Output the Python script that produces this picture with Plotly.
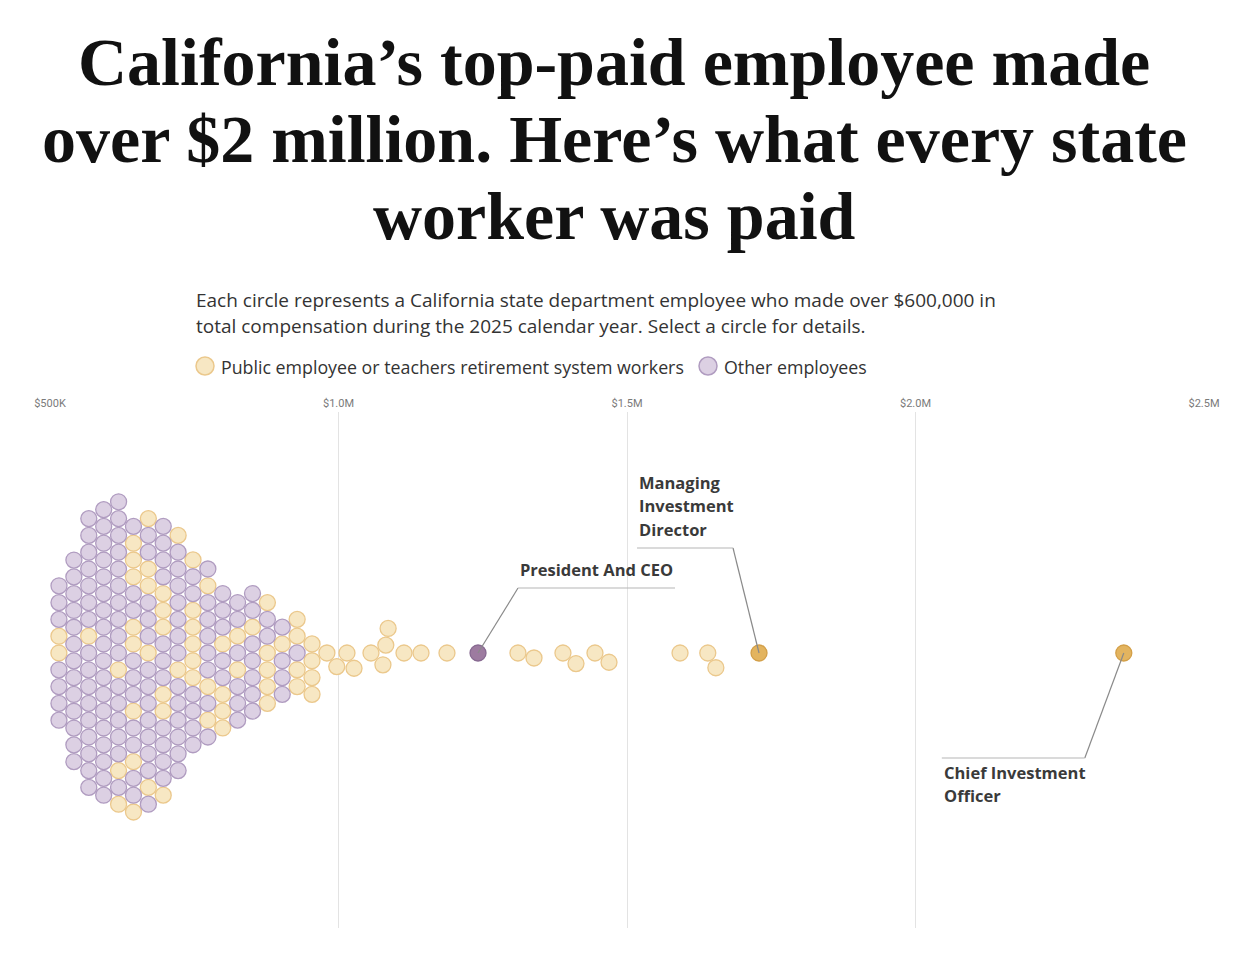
import math
import plotly.graph_objects as go

# ---------------- DATA (total compensation, thousands of $) ----------------
retirement_k = [
    515.42, 515.46,
    566.98,
    618.54, 618.78, 618.86,
    644.37, 644.41, 644.43, 644.51, 644.55, 644.57, 644.61, 644.67,
    670.13, 670.29, 670.31, 670.43, 670.45,
    696.00, 696.02, 696.04, 696.06, 696.10, 696.24,
    721.78, 722.04,
    747.59, 747.61, 747.63, 747.67, 747.71, 747.81,
    773.46, 773.54, 773.56,
    799.26, 799.28, 799.32, 799.36,
    825.05, 825.07,
    850.91,
    876.64, 876.66, 876.70, 876.74, 876.76,
    902.50,
    928.28, 928.30, 928.32, 928.34,
    954.07, 954.09, 954.11, 954.13,
    979.90,
    997.0, 1014.7, 1026.9, 1056.3, 1077.0, 1082.0, 1086.0, 1113.5, 1143.0,
    1188.0, 1311.0, 1338.8, 1389.0, 1411.6, 1444.5, 1468.8, 1591.9, 1640.0,
    1654.0, 1728.8, 2361.0,
]
other_k = [
    515.44, 515.48, 515.50, 515.52, 515.54, 515.56, 515.58,
    541.18, 541.20, 541.22, 541.24, 541.26, 541.28, 541.30, 541.32, 541.34, 541.36, 541.38, 541.40, 541.42,
    566.94, 566.96, 567.00, 567.02, 567.04, 567.06, 567.08, 567.10, 567.12, 567.14, 567.16, 567.18,
    567.20, 567.22, 567.24, 567.26,
    592.73, 592.75, 592.77, 592.79, 592.81, 592.83, 592.85, 592.87, 592.89, 592.91, 592.93, 592.95,
    592.97, 592.99, 593.01, 593.03, 593.05, 593.07,
    618.52, 618.56, 618.58, 618.60, 618.62, 618.64, 618.66, 618.68, 618.70, 618.72, 618.74, 618.76,
    618.80, 618.82, 618.84, 618.88,
    644.33, 644.35, 644.39, 644.45, 644.47, 644.49, 644.53, 644.59, 644.63, 644.65,
    670.15, 670.17, 670.19, 670.21, 670.23, 670.25, 670.27, 670.33, 670.35, 670.37, 670.39, 670.41, 670.47,
    695.94, 695.96, 695.98, 696.08, 696.12, 696.14, 696.16, 696.18, 696.20, 696.22, 696.26,
    721.76, 721.80, 721.82, 721.84, 721.86, 721.88, 721.90, 721.92, 721.94, 721.96, 721.98, 722.00, 722.02,
    747.65, 747.69, 747.73, 747.75, 747.77, 747.79,
    773.40, 773.42, 773.44, 773.48, 773.50, 773.52, 773.58, 773.60,
    799.22, 799.24, 799.30, 799.34, 799.38,
    825.03, 825.09, 825.11, 825.13, 825.15, 825.17,
    850.83, 850.85, 850.87, 850.89, 850.93, 850.95, 850.97,
    876.68, 876.72,
    902.46, 902.48, 902.52, 902.54,
    928.26,
    1241.8,
]
highlight_titles = ["President And CEO", "Managing Investment Director", "Chief Investment Officer"]
highlight_values = [1241.8, 1728.8, 2361.0]

tick_vals = [500, 1000, 1500, 2000, 2500]
tick_text = ["$500K", "$1.0M", "$1.5M", "$2.0M", "$2.5M"]

title_lines = ["California\u2019s top-paid employee made",
               "over $2 million. Here\u2019s what every state",
               "worker was paid"]
subtitle_lines = ["Each circle represents a California state department employee who made over $600,000 in",
                  "total compensation during the 2025 calendar year. Select a circle for details."]
legend_labels = ["Public employee or teachers retirement system workers", "Other employees"]

# ---------------- LAYOUT CONSTANTS ----------------
W, H = 1240, 966
ML, MR, MT, MB = 50, 36, 412, 38
PW, PH = W - ML - MR, H - MT - MB
X0, X1 = 500, 2500
PX_PER_K = PW / (X1 - X0)
CENTER_PY = 653
Y_TOP = CENTER_PY - MT
Y_BOT = -(H - MB - CENTER_PY)
D = 16.8  # collision diameter in px

GOLD_FILL, GOLD_LINE = "#f7e7c3", "#ebc88c"
PURP_FILL, PURP_LINE = "#dcd0e3", "#b09cc0"
GOLD_HI_FILL, GOLD_HI_LINE = "#e3b45f", "#d39f48"
PURP_HI_FILL, PURP_HI_LINE = "#9d7ba0", "#876991"

# ---------------- BEESWARM (dodge) LAYOUT ----------------
items = [(v, "ret") for v in retirement_k] + [(v, "oth") for v in other_k]
items.sort(key=lambda t: t[0])
placed = []
for v, g in items:
    x = v * PX_PER_K
    near = [(px, py) for px, py, *_ in placed if abs(x - px) < D]
    cands = [0.0]
    for px, py in near:
        dy = math.sqrt(max(D * D - (x - px) ** 2, 0))
        cands += [py + dy, py - dy]
    cands = sorted(set(round(c, 6) for c in cands), key=lambda c: (abs(c), c))
    y = 0.0
    for c in cands:
        if all((x - px) ** 2 + (c - py) ** 2 >= D * D - 1e-3 for px, py in near):
            y = c
            break
    placed.append((x, y, v, g))

def pos_of(val):
    for x, y, v, g in placed:
        if abs(v - val) < 1e-9:
            return v, y
    return val, 0.0

fig = go.Figure()
for grp, fill, line in [("ret", GOLD_FILL, GOLD_LINE), ("oth", PURP_FILL, PURP_LINE)]:
    pts = [(v, y) for x, y, v, g in placed if g == grp and v not in highlight_values]
    fig.add_trace(go.Scatter(
        x=[p[0] for p in pts], y=[p[1] for p in pts], mode="markers",
        marker=dict(size=16, color=fill, line=dict(color=line, width=1.3)),
        hoverinfo="x", showlegend=False))

hi_x, hi_y, hi_fill, hi_line = [], [], [], []
for val in highlight_values:
    v, y = pos_of(val)
    hi_x.append(v); hi_y.append(y)
    is_ret = val in retirement_k
    hi_fill.append(GOLD_HI_FILL if is_ret else PURP_HI_FILL)
    hi_line.append(GOLD_HI_LINE if is_ret else PURP_HI_LINE)
fig.add_trace(go.Scatter(
    x=hi_x, y=hi_y, mode="markers", text=highlight_titles,
    marker=dict(size=16, color=hi_fill, line=dict(color=hi_line, width=1.3)),
    hoverinfo="text+x", showlegend=False))

# ---------------- helpers ----------------
def pxx(px):
    return (px - ML) / PW
def pyy(py):
    return (H - MB - py) / PH

LBL_FONT = dict(family="Open Sans", size=16.5, color="#3a3a3a")
ann = []
shapes = []

# leader lines: (dx_px to elbow, dy_px to elbow, horizontal line start/end offsets from elbow)
leaders = [
    (40, -65, 0, 157),
    (-26, -105, -96, 0),
    (-39, 105, -143, 0),
]
label_lines = [["President And CEO"], ["Managing", "Investment", "Director"], ["Chief Investment", "Officer"]]
for (dx, dy, h0, h1), lines, xv, yv, in zip(leaders, label_lines, hi_x, hi_y):
    ex = xv + dx / PX_PER_K
    ey = yv - dy
    shapes.append(dict(type="line", xref="x", yref="y", x0=xv, y0=yv, x1=ex, y1=ey,
                       line=dict(color="#8a8a8a", width=1.2), layer="above"))
    shapes.append(dict(type="line", xref="x", yref="y", x0=ex + h0 / PX_PER_K, y0=ey,
                       x1=ex + h1 / PX_PER_K, y1=ey, line=dict(color="#b5b5b5", width=1.2), layer="above"))
    left_x = ex + min(h0, h1) / PX_PER_K
    n = len(lines)
    for i, t in enumerate(lines):
        if dy < 0:
            yy = ey + 19 + (n - 1 - i) * 23.5
        else:
            yy = ey - 14 - i * 23.5
        ann.append(dict(x=left_x, y=yy, xref="x", yref="y", text="<b>%s</b>" % t, showarrow=False,
                        xanchor="left", yanchor="middle", font=LBL_FONT))

# title
for i, t in enumerate(title_lines):
    ann.append(dict(x=pxx(614), y=pyy(62 + i * 77), xref="paper", yref="paper", text="<b>%s</b>" % t,
                    showarrow=False, xanchor="center", yanchor="middle",
                    font=dict(family="Liberation Serif", size=68, color="#111111")))
# subtitle
for i, t in enumerate(subtitle_lines):
    ann.append(dict(x=pxx(194), y=pyy(300 + i * 26), xref="paper", yref="paper", text=t,
                    showarrow=False, xanchor="left", yanchor="middle",
                    font=dict(family="Open Sans", size=19, color="#333333")))
# legend
leg_x = [205, 708]
leg_fill = [GOLD_FILL, PURP_FILL]
leg_line = [GOLD_LINE, PURP_LINE]
for lx, lab, f, l in zip(leg_x, legend_labels, leg_fill, leg_line):
    shapes.append(dict(type="circle", xref="paper", yref="paper", xsizemode="pixel", ysizemode="pixel",
                       xanchor=pxx(lx), yanchor=pyy(366), x0=-9, x1=9, y0=-9, y1=9,
                       fillcolor=f, line=dict(color=l, width=1.5)))
    ann.append(dict(x=pxx(lx + 14), y=pyy(367), xref="paper", yref="paper", text=lab, showarrow=False,
                    xanchor="left", yanchor="middle", font=dict(family="Open Sans", size=17.8, color="#333333")))

fig.update_layout(
    width=W, height=H, margin=dict(l=ML, r=MR, t=MT, b=MB),
    paper_bgcolor="white", plot_bgcolor="white",
    annotations=ann, shapes=shapes, showlegend=False,
    xaxis=dict(range=[X0, X1], side="top", tickvals=tick_vals, ticktext=tick_text,
               showgrid=True, gridcolor="#e3e3e3", gridwidth=1, zeroline=False, showline=False,
               ticks="", ticklabelstandoff=2,
               tickfont=dict(family="Roboto", size=11, color="#7a7a7a"), fixedrange=True),
    yaxis=dict(range=[Y_BOT, Y_TOP], visible=False, fixedrange=True),
)

fig.write_html("out.html", config={"displayModeBar": False},
               post_script="document.body.style.margin='0';")
